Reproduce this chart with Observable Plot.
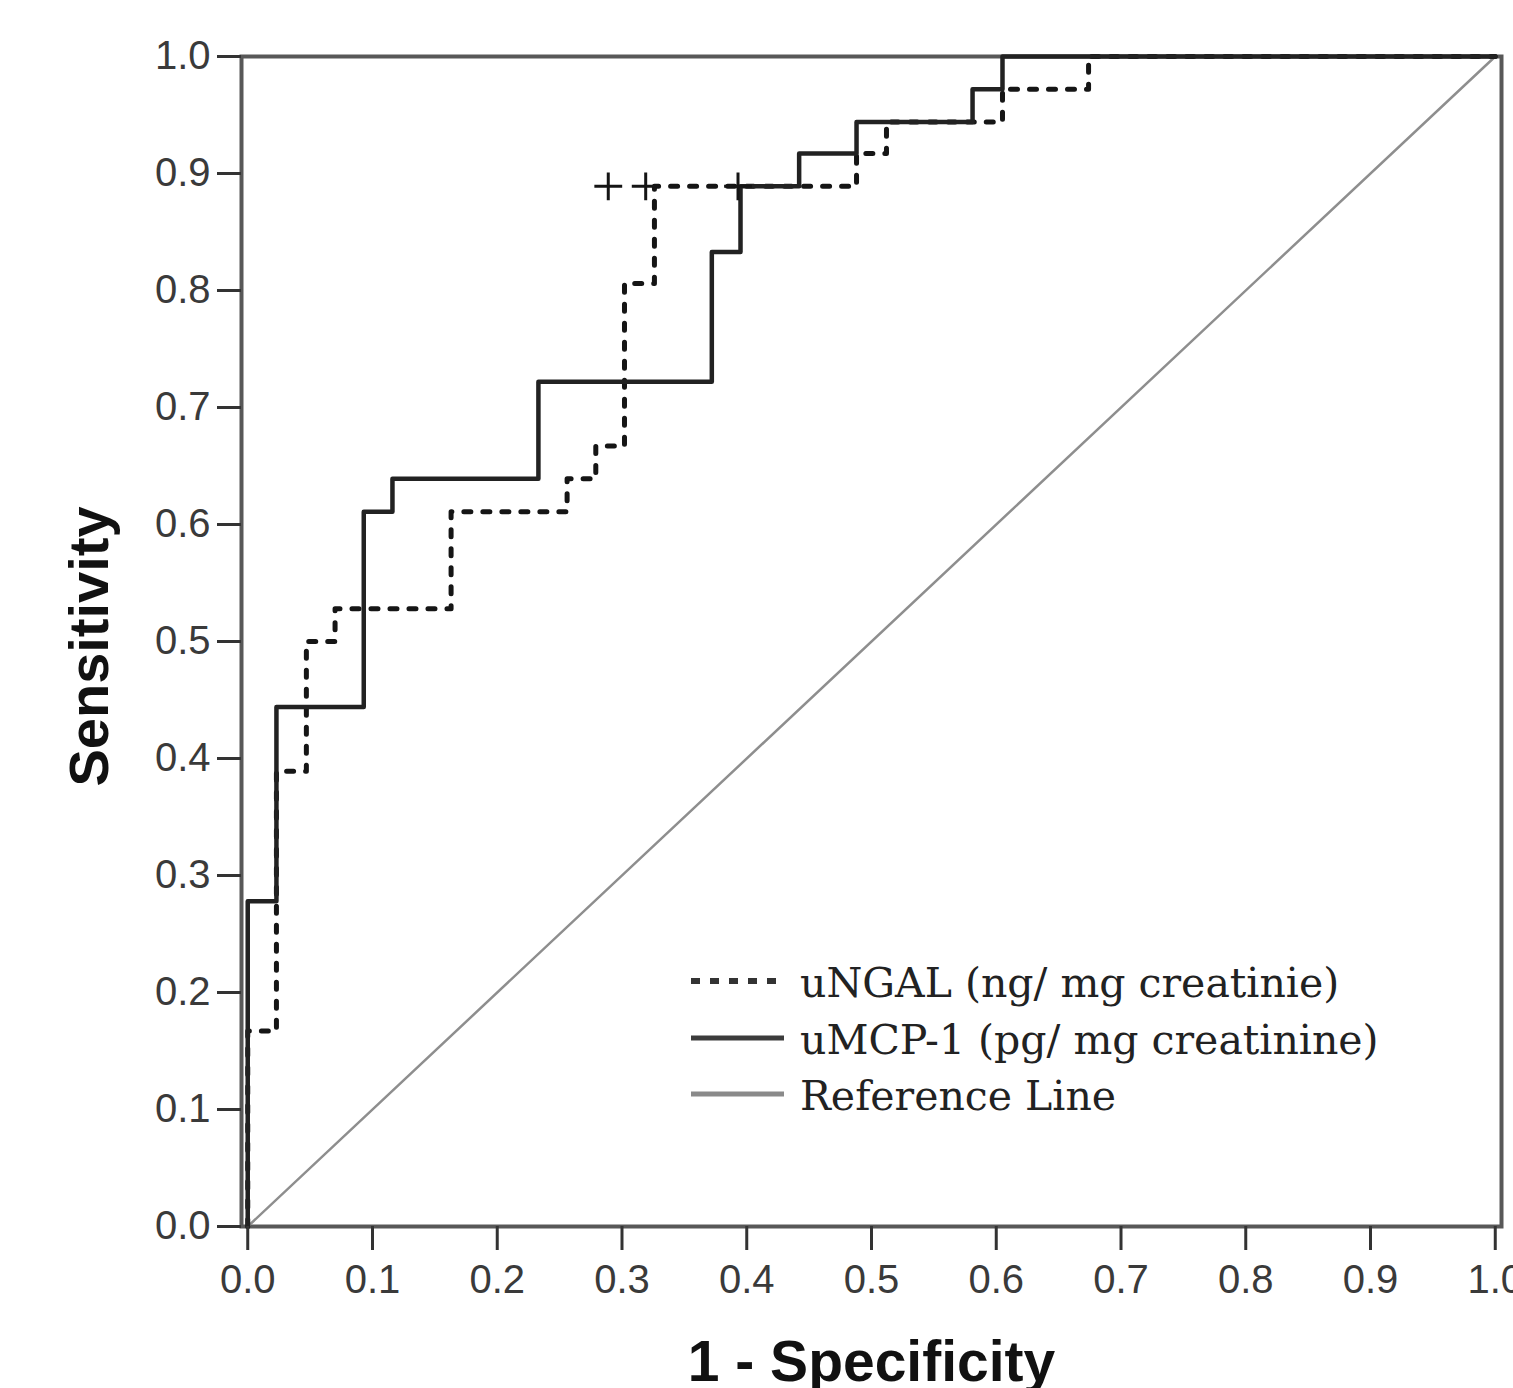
<!DOCTYPE html>
<html>
<head>
<meta charset="utf-8">
<script src="https://cdn.jsdelivr.net/npm/d3@7"></script>
<script src="https://cdn.jsdelivr.net/npm/@observablehq/plot@0.6"></script>
<style>
  html, body { margin: 0; padding: 0; background: #fff; }
  #wrap { position: relative; width: 1513px; height: 1388px; overflow: hidden; }
  #legend { position: absolute; left: 0; top: 0; pointer-events: none; }
</style>
</head>
<body>
<div id="wrap"></div>
<script>
// ---- data ----
const xTicks = [0, 0.1, 0.2, 0.3, 0.4, 0.5, 0.6, 0.7, 0.8, 0.9, 1.0];
const yTicks = [0, 0.1, 0.2, 0.3, 0.4, 0.5, 0.6, 0.7, 0.8, 0.9, 1.0];

// uNGAL (dotted) ROC points (1 - specificity, sensitivity)
const ngalFpr = [0, 0, 0.023, 0.047, 0.070, 0.163, 0.256, 0.279, 0.302, 0.326, 0.488, 0.512, 0.605, 0.674, 1];
const ngalTpr = [0, 0.167, 0.389, 0.500, 0.528, 0.611, 0.639, 0.667, 0.806, 0.889, 0.917, 0.944, 0.972, 1, 1];

// uMCP-1 (solid) ROC points
const mcpFpr = [0, 0, 0.023, 0.093, 0.116, 0.233, 0.372, 0.395, 0.442, 0.488, 0.581, 0.605, 1];
const mcpTpr = [0, 0.278, 0.444, 0.611, 0.639, 0.722, 0.833, 0.889, 0.917, 0.944, 0.972, 1, 1];

// "+" tie markers on the uNGAL curve
const tieFpr = [0.289, 0.319, 0.393];
const tieTpr = [0.889, 0.889, 0.889];

// diagonal reference line
const refFpr = [0, 1];
const refTpr = [0, 1];

const legendLabels = ["uNGAL (ng/ mg creatinie)", "uMCP-1 (pg/ mg creatinine)", "Reference Line"];
const xTitle = "1 - Specificity";
const yTitle = "Sensitivity";

// ---- tables ----
const ngal = ngalFpr.map((x, i) => ({x, y: ngalTpr[i]}));
const mcp = mcpFpr.map((x, i) => ({x, y: mcpTpr[i]}));
const ties = tieFpr.map((x, i) => ({x, y: tieTpr[i]}));
const ref = refFpr.map((x, i) => ({x, y: refTpr[i]}));

const fmt = d3.format(".1f");

const chart = Plot.plot({
  width: 1513,
  height: 1388,
  marginLeft: 241,
  marginRight: 12,
  marginTop: 56,
  marginBottom: 162,
  style: {fontFamily: "'Liberation Sans', Arial, sans-serif", background: "white", color: "#3a3a3a"},
  x: {domain: [-0.005, 1.005]},
  y: {domain: [0, 1]},
  marks: [
    Plot.frame({stroke: "#585858", strokeWidth: 4}),
    Plot.line(ref, {x: "x", y: "y", stroke: "#8e8e8e", strokeWidth: 2.5}),
    Plot.line(ngal, {x: "x", y: "y", curve: "step-after", stroke: "#151515", strokeWidth: 5, strokeDasharray: "7,12"}),
    Plot.line(mcp, {x: "x", y: "y", curve: "step-after", stroke: "#222", strokeWidth: 4.5}),
    Plot.dot(ties, {x: "x", y: "y", symbol: "plus", r: 9, stroke: "#151515", strokeWidth: 3}),
    Plot.axisX(xTicks, {tickSize: 24, tickPadding: 14, tickFormat: fmt, fontSize: 40, strokeWidth: 3, stroke: "#333", fill: "#3a3a3a", label: null}),
    Plot.axisY(yTicks, {tickSize: 24, tickPadding: 7, tickFormat: fmt, fontSize: 40, strokeWidth: 3, stroke: "#333", fill: "#3a3a3a", label: null}),
    Plot.text([xTitle], {text: d => d, frameAnchor: "bottom", lineAnchor: "top", dy: 114, fontSize: 57, fontWeight: "bold", fill: "#111"}),
    Plot.text([yTitle], {text: d => d, frameAnchor: "left", rotate: -90, textAnchor: "middle", dx: -151, dy: 5, fontSize: 56, fontWeight: "bold", fill: "#111"})
  ]
});

const wrap = document.getElementById("wrap");
wrap.appendChild(chart);

// ---- in-chart legend (overlay) ----
const ns = "http://www.w3.org/2000/svg";
const leg = document.createElementNS(ns, "svg");
leg.setAttribute("id", "legend");
leg.setAttribute("width", 1513);
leg.setAttribute("height", 1388);
const rowsY = [981, 1038, 1094];
const styles = [
  {stroke: "#333", width: 6, dash: "9,10"},
  {stroke: "#3c3c3c", width: 5, dash: null},
  {stroke: "#8a8a8a", width: 5, dash: null}
];
legendLabels.forEach((lab, i) => {
  const ln = document.createElementNS(ns, "line");
  ln.setAttribute("x1", 691); ln.setAttribute("x2", 784);
  ln.setAttribute("y1", rowsY[i]); ln.setAttribute("y2", rowsY[i]);
  ln.setAttribute("stroke", styles[i].stroke);
  ln.setAttribute("stroke-width", styles[i].width);
  if (styles[i].dash) ln.setAttribute("stroke-dasharray", styles[i].dash);
  leg.appendChild(ln);
  const t = document.createElementNS(ns, "text");
  t.setAttribute("x", 800);
  t.setAttribute("y", rowsY[i] + 16);
  t.setAttribute("font-family", "'DejaVu Serif', serif");
  t.setAttribute("font-size", 41);
  t.setAttribute("fill", "#222");
  t.textContent = lab;
  leg.appendChild(t);
});
wrap.appendChild(leg);
</script>
</body>
</html>
